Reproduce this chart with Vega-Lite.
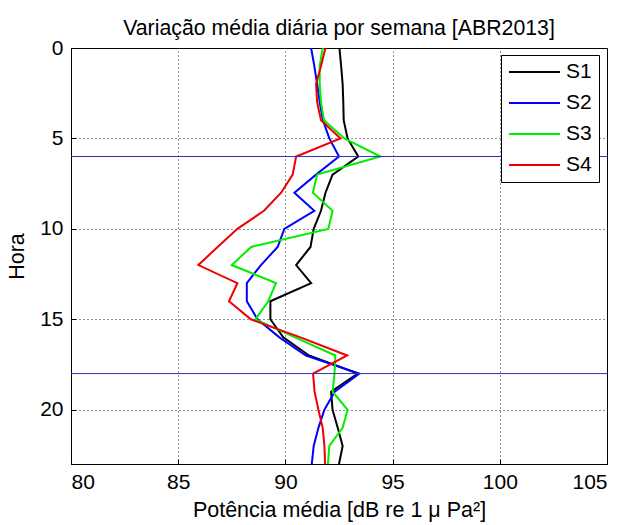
{
  "$schema": "https://vega.github.io/schema/vega-lite/v6.json",
  "width": 536,
  "height": 416,
  "autosize": {"type": "none"},
  "padding": {"left": 71, "top": 48, "right": 21, "bottom": 61},
  "background": "white",
  "config": {
    "font": "Liberation Sans",
    "view": {"stroke": "#000000", "strokeWidth": 1},
    "axis": {
      "domain": false,
      "grid": true,
      "gridColor": "#111111",
      "gridDash": [1, 3],
      "gridOpacity": 0.9,
      "gridWidth": 1,
      "ticks": true,
      "tickSize": -5,
      "tickColor": "#000000",
      "labelFont": "Liberation Sans",
      "labelFontSize": 21,
      "labelColor": "#000000",
      "titleFont": "Liberation Sans",
      "titleFontSize": 21.5,
      "titleFontWeight": "normal",
      "titleColor": "#000000"
    }
  },
  "title": {
    "text": "Variação média diária por semana [ABR2013]",
    "font": "Liberation Sans",
    "fontSize": 21.3,
    "fontWeight": "normal",
    "color": "#000000",
    "anchor": "middle",
    "frame": "group",
    "offset": -2
  },
  "data": {
    "values": [
      {"hora": 0, "serie": "S1", "pot": 92.52}, {"hora": 1, "serie": "S1", "pot": 92.6}, {"hora": 2, "serie": "S1", "pot": 92.67}, {"hora": 3, "serie": "S1", "pot": 92.7}, {"hora": 4, "serie": "S1", "pot": 92.72}, {"hora": 5, "serie": "S1", "pot": 92.9}, {"hora": 6, "serie": "S1", "pot": 93.4}, {"hora": 7, "serie": "S1", "pot": 92.2}, {"hora": 8, "serie": "S1", "pot": 91.87}, {"hora": 9, "serie": "S1", "pot": 91.66}, {"hora": 10, "serie": "S1", "pot": 91.32}, {"hora": 11, "serie": "S1", "pot": 91.17}, {"hora": 12, "serie": "S1", "pot": 90.5}, {"hora": 13, "serie": "S1", "pot": 91.2}, {"hora": 14, "serie": "S1", "pot": 89.3}, {"hora": 15, "serie": "S1", "pot": 89.3}, {"hora": 16, "serie": "S1", "pot": 89.9}, {"hora": 17, "serie": "S1", "pot": 91.1}, {"hora": 18, "serie": "S1", "pot": 93.37}, {"hora": 19, "serie": "S1", "pot": 92.13}, {"hora": 20, "serie": "S1", "pot": 92.2}, {"hora": 21, "serie": "S1", "pot": 92.44}, {"hora": 22, "serie": "S1", "pot": 92.67}, {"hora": 23, "serie": "S1", "pot": 92.5},
      {"hora": 0, "serie": "S2", "pot": 91.2}, {"hora": 1, "serie": "S2", "pot": 91.35}, {"hora": 2, "serie": "S2", "pot": 91.48}, {"hora": 3, "serie": "S2", "pot": 91.6}, {"hora": 4, "serie": "S2", "pot": 91.75}, {"hora": 5, "serie": "S2", "pot": 92.05}, {"hora": 6, "serie": "S2", "pot": 92.5}, {"hora": 7, "serie": "S2", "pot": 91.43}, {"hora": 8, "serie": "S2", "pot": 90.42}, {"hora": 9, "serie": "S2", "pot": 91.35}, {"hora": 10, "serie": "S2", "pot": 89.95}, {"hora": 11, "serie": "S2", "pot": 89.64}, {"hora": 12, "serie": "S2", "pot": 88.86}, {"hora": 13, "serie": "S2", "pot": 88.2}, {"hora": 14, "serie": "S2", "pot": 88.2}, {"hora": 15, "serie": "S2", "pot": 88.7}, {"hora": 16, "serie": "S2", "pot": 89.72}, {"hora": 17, "serie": "S2", "pot": 90.96}, {"hora": 18, "serie": "S2", "pot": 93.45}, {"hora": 19, "serie": "S2", "pot": 92.3}, {"hora": 20, "serie": "S2", "pot": 91.82}, {"hora": 21, "serie": "S2", "pot": 91.54}, {"hora": 22, "serie": "S2", "pot": 91.32}, {"hora": 23, "serie": "S2", "pot": 91.23},
      {"hora": 0, "serie": "S3", "pot": 91.74}, {"hora": 1, "serie": "S3", "pot": 91.6}, {"hora": 2, "serie": "S3", "pot": 91.6}, {"hora": 3, "serie": "S3", "pot": 91.66}, {"hora": 4, "serie": "S3", "pot": 91.8}, {"hora": 5, "serie": "S3", "pot": 92.75}, {"hora": 6, "serie": "S3", "pot": 94.43}, {"hora": 7, "serie": "S3", "pot": 91.48}, {"hora": 8, "serie": "S3", "pot": 91.28}, {"hora": 9, "serie": "S3", "pot": 92.2}, {"hora": 10, "serie": "S3", "pot": 92.0}, {"hora": 11, "serie": "S3", "pot": 88.4}, {"hora": 12, "serie": "S3", "pot": 87.5}, {"hora": 13, "serie": "S3", "pot": 89.56}, {"hora": 14, "serie": "S3", "pot": 89.2}, {"hora": 15, "serie": "S3", "pot": 88.6}, {"hora": 16, "serie": "S3", "pot": 90.45}, {"hora": 17, "serie": "S3", "pot": 92.33}, {"hora": 18, "serie": "S3", "pot": 92.29}, {"hora": 19, "serie": "S3", "pot": 92.2}, {"hora": 20, "serie": "S3", "pot": 92.9}, {"hora": 21, "serie": "S3", "pot": 92.67}, {"hora": 22, "serie": "S3", "pot": 92.05}, {"hora": 23, "serie": "S3", "pot": 91.98},
      {"hora": 0, "serie": "S4", "pot": 91.87}, {"hora": 1, "serie": "S4", "pot": 91.66}, {"hora": 2, "serie": "S4", "pot": 91.43}, {"hora": 3, "serie": "S4", "pot": 91.48}, {"hora": 4, "serie": "S4", "pot": 91.66}, {"hora": 5, "serie": "S4", "pot": 92.57}, {"hora": 6, "serie": "S4", "pot": 90.5}, {"hora": 7, "serie": "S4", "pot": 90.34}, {"hora": 8, "serie": "S4", "pot": 89.8}, {"hora": 9, "serie": "S4", "pot": 89.0}, {"hora": 10, "serie": "S4", "pot": 87.76}, {"hora": 11, "serie": "S4", "pot": 86.84}, {"hora": 12, "serie": "S4", "pot": 85.94}, {"hora": 13, "serie": "S4", "pot": 87.76}, {"hora": 14, "serie": "S4", "pot": 87.37}, {"hora": 15, "serie": "S4", "pot": 88.39}, {"hora": 16, "serie": "S4", "pot": 90.7}, {"hora": 17, "serie": "S4", "pot": 92.88}, {"hora": 18, "serie": "S4", "pot": 91.29}, {"hora": 19, "serie": "S4", "pot": 91.36}, {"hora": 20, "serie": "S4", "pot": 91.54}, {"hora": 21, "serie": "S4", "pot": 91.74}, {"hora": 22, "serie": "S4", "pot": 91.82}, {"hora": 23, "serie": "S4", "pot": 91.85}
    ]
  },
  "layer": [
    {
      "mark": {"type": "line", "strokeWidth": 2, "interpolate": "linear", "clip": true},
      "encoding": {
        "x": {
          "field": "pot", "type": "quantitative",
          "scale": {"domain": [80, 105], "nice": false, "zero": false},
          "axis": {
            "values": [80, 85, 90, 95, 100, 105],
            "title": "Potência média [dB re 1 μ Pa²]",
            "labelPadding": 12.5,
            "labelBaseline": "top",
            "titleX": 268,
            "titleY": 52,
            "titleBaseline": "alphabetic",
            "titleAnchor": "middle"
          }
        },
        "y": {
          "field": "hora", "type": "quantitative",
          "scale": {"domain": [0, 23], "nice": false, "zero": false, "reverse": true},
          "axis": {
            "values": [0, 5, 10, 15, 20],
            "title": "Hora",
            "labelPadding": 13,
            "titleX": -43,
            "titleY": 208,
            "titleAngle": -90,
            "titleBaseline": "bottom",
            "titleAnchor": "middle"
          }
        },
        "order": {"field": "hora", "type": "quantitative"},
        "color": {
          "field": "serie", "type": "nominal",
          "scale": {"domain": ["S1", "S2", "S3", "S4"], "range": ["#000000", "#0000ff", "#00ee00", "#ee0000"]},
          "legend": {
            "title": null,
            "orient": "none",
            "legendX": 430,
            "legendY": 7,
            "symbolType": "stroke",
            "symbolSize": 2601,
            "symbolStrokeWidth": 2,
            "labelFontSize": 21,
            "labelFont": "Liberation Sans",
            "labelColor": "#000000",
            "labelOffset": 5,
            "clipHeight": 20,
            "rowPadding": 10,
            "padding": 7,
            "strokeColor": "#000000",
            "fillColor": "#ffffff",
            "cornerRadius": 0
          }
        }
      }
    },
    {
      "data": {"values": [{"hora": 6}, {"hora": 18}]},
      "mark": {"type": "rule", "color": "#3030c0", "strokeWidth": 1},
      "encoding": {
        "y": {"field": "hora", "type": "quantitative"}
      }
    }
  ]
}
